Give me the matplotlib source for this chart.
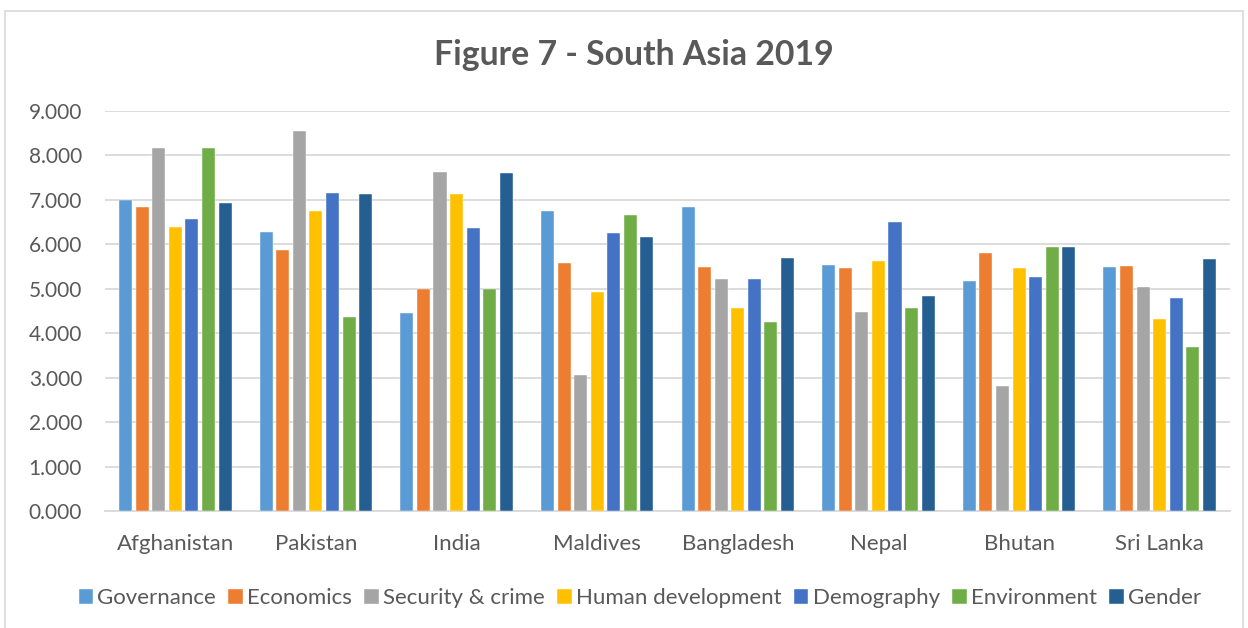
import matplotlib
matplotlib.use("Agg")
import matplotlib.pyplot as plt
import numpy as np
from matplotlib.patches import Rectangle

countries = ["Afghanistan", "Pakistan", "India", "Maldives", "Bangladesh",
             "Nepal", "Bhutan", "Sri Lanka"]

governance = [6.99, 6.27, 4.45, 6.76, 6.83, 5.53, 5.18, 5.49]
economics = [6.85, 5.88, 5.00, 5.57, 5.50, 5.46, 5.80, 5.52]
security_crime = [8.17, 8.55, 7.63, 3.06, 5.23, 4.48, 2.81, 5.03]
human_development = [6.39, 6.76, 7.13, 4.93, 4.57, 5.63, 5.47, 4.33]
demography = [6.56, 7.15, 6.36, 6.25, 5.21, 6.51, 5.27, 4.79]
environment = [8.16, 4.37, 4.99, 6.67, 4.26, 4.57, 5.94, 3.69]
gender = [6.94, 7.13, 7.61, 6.16, 5.69, 4.84, 5.93, 5.66]

series_names = ["Governance", "Economics", "Security & crime", "Human development",
                "Demography", "Environment", "Gender"]
series_values = [governance, economics, security_crime, human_development,
                 demography, environment, gender]
series_colors = ["#5B9BD5", "#ED7D31", "#A5A5A5", "#FFC000",
                 "#4472C4", "#70AD47", "#255E91"]

y_ticks = [0, 1, 2, 3, 4, 5, 6, 7, 8, 9]

plt.rcParams["font.family"] = ["Lato", "DejaVu Sans"]
text_color = "#595959"
grid_color = "#D9D9D9"

fig = plt.figure(figsize=(12.48, 6.28), dpi=100)
fig.patch.set_facecolor("white")

# chart frame
fig.patches.append(Rectangle((5 / 1248, -0.01), 1238 / 1248, 1 - 11 / 628 + 0.01,
                             transform=fig.transFigure, fill=False,
                             edgecolor="#D9D9D9", linewidth=1.2))

ax = fig.add_axes([105 / 1248, 1 - 511 / 628, 1125 / 1248, 400 / 628])

n = len(series_names)
pitch = 0.1178
bar_w = 0.0925
x = np.arange(len(countries))
for i, (name, vals, col) in enumerate(zip(series_names, series_values, series_colors)):
    offs = (i - (n - 1) / 2) * pitch
    ax.bar(x + offs, vals, width=bar_w, color=col, edgecolor="white",
           linewidth=0.3, label=name, zorder=3)

ax.set_xlim(-0.5, len(countries) - 0.5)
ax.set_ylim(0, 9)
ax.set_yticks(y_ticks)
ax.set_yticklabels([f"{v:.3f}" for v in y_ticks])
ax.set_xticks(x)
ax.set_xticklabels(countries)
ax.tick_params(axis="both", length=0, colors=text_color)
ax.tick_params(axis="y", pad=16.5, labelsize=15)
ax.tick_params(axis="x", pad=16.5, labelsize=16)
ax.yaxis.grid(True, color=grid_color, linewidth=1.3, zorder=0)
ax.set_axisbelow(True)
for side in ["left", "right", "top"]:
    ax.spines[side].set_visible(False)
ax.spines["bottom"].set_color(grid_color)
ax.spines["bottom"].set_linewidth(1.3)

fig.text(634 / 1248, 1 - 55 / 628, "Figure 7 - South Asia 2019", ha="center",
         va="center", fontsize=24.3, fontweight="bold", color=text_color)

leg = fig.legend(loc="center", bbox_to_anchor=(640 / 1248, 1 - 598 / 628),
                 ncol=7, frameon=False, fontsize=16, handlelength=0.65,
                 handleheight=0.65, handletextpad=0.2, columnspacing=0.55,
                 labelcolor=text_color)

fig.savefig("out.png", dpi=100)
